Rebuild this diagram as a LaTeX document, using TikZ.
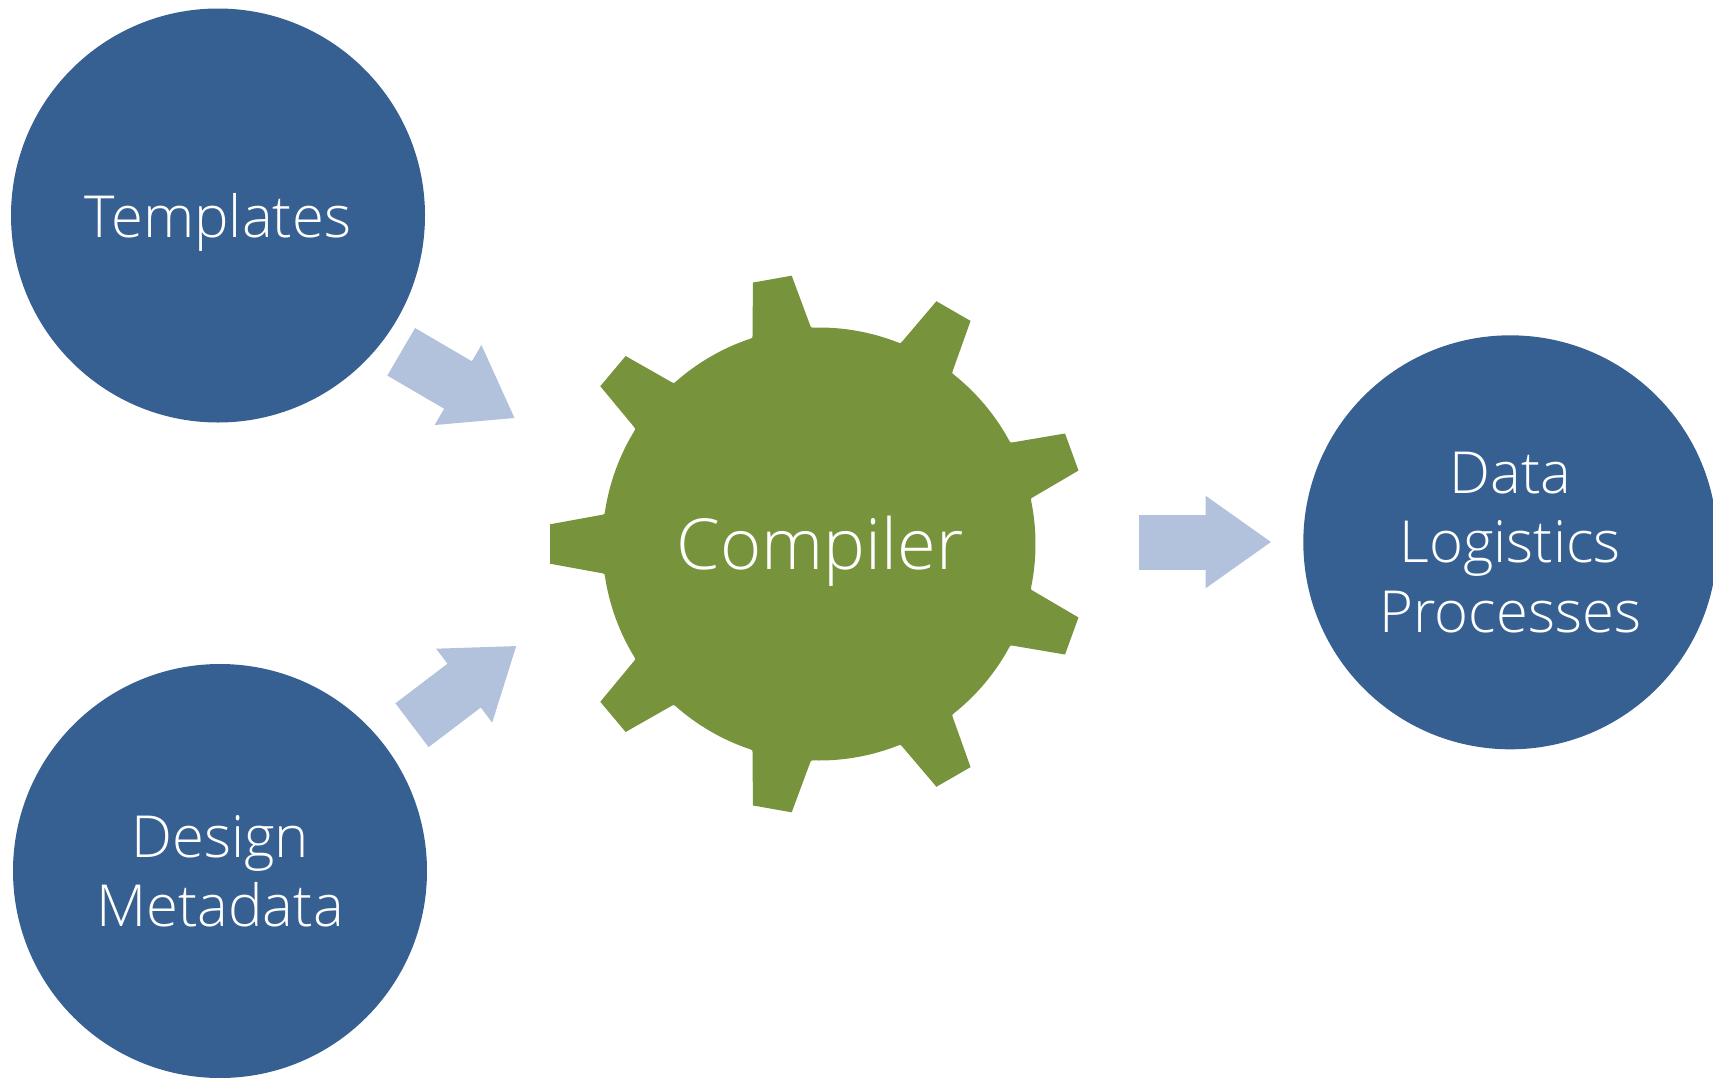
\documentclass[tikz,border=0pt]{standalone}
\usepackage{fontspec}
\setmainfont{Open Sans}[UprightFont=* Light]
\usetikzlibrary{arrows.meta,calc}
\definecolor{discblue}{HTML}{376092}
\definecolor{geargreen}{HTML}{77933C}
\definecolor{arrowblue}{HTML}{B2C1DC}
\tikzset{
  disc/.style={circle,fill=discblue,draw=none,minimum size=414pt,inner sep=0pt,text=white,align=center,
    font=\fontsize{58}{69.3}\selectfont},
  gearlabel/.style={text=white,font=\fontsize{70.4}{80}\selectfont,inner sep=0pt},
  flow/.style={draw=arrowblue,line width=#1,-{Triangle[length=66pt,width=88pt,fill=arrowblue]}},
  flow/.default=55pt
}
\begin{document}
\begin{tikzpicture}[x=1pt,y=1pt]
\clip (0,0) rectangle (1713,-1077);
\useasboundingbox (0,0) rectangle (1713,-1077);
\node[disc] (templates) at (218,-215.5) {\smash{\raisebox{-21.5pt}{Templates}}};
\node[disc] (metadata) at (220,-871) {Design\\Metadata};
\node[disc] (logistics) at (1510.3,-542.3) {Data\\Logistics\\Processes};
\begin{scope}[shift={(819,-544)}]
\fill[geargreen] (188.48:216.5)
  \foreach \a in {180,140,100,60,20,-20,-60,-100,-140}{
    .. controls ({\a+7.88}:216.5) .. ($({\a+7.88}:216.5)!0.045!({\a+4.19}:269.7)$)
    -- ({\a+4.19}:269.7) -- ({\a-4.19}:269.7)
    -- ($({\a-7.88}:216.5)!0.045!({\a-4.19}:269.7)$)
    .. controls ({\a-7.88}:216.5) .. ({\a-8.48}:216.5)
    arc[start angle={\a-8.48},end angle={\a-31.52},radius=216.5pt]
  } -- cycle;
\end{scope}
\node[gearlabel] (compiler) at (820,-544) {\smash{\raisebox{-25pt}{Compiler}}};
\coordinate (a1s) at (401.2,-351.8);
\coordinate (a1e) at (515,-418.3);
\coordinate (a2s) at (412,-725.2);
\coordinate (a2e) at (516.7,-645.7);
\coordinate (a3s) at (1139,-542);
\coordinate (a3e) at (1271.5,-542);
\draw[flow] (a1s) -- (a1e);
\draw[flow] (a2s) -- (a2e);
\draw[flow] (a3s) -- (a3e);
\end{tikzpicture}
\end{document}
